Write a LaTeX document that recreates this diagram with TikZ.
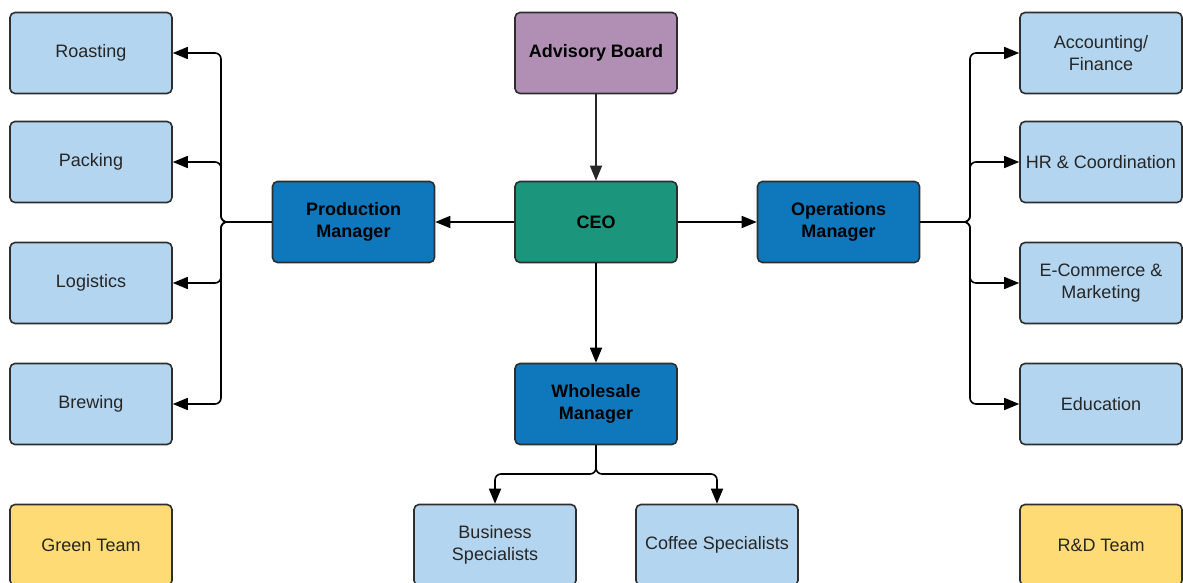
\documentclass[tikz,border=0pt]{standalone}
\usepackage{fontspec}
\setmainfont{Liberation Sans}
\usetikzlibrary{arrows.meta}
\definecolor{nhat}{HTML}{B3D5EF}
\definecolor{dam}{HTML}{0F78BC}
\definecolor{xanh}{HTML}{1B967C}
\definecolor{tim}{HTML}{B18FB4}
\definecolor{vang}{HTML}{FEDB74}
\definecolor{vien}{HTML}{2E2E2E}
\tikzset{
  hop/.style={draw=vien, line width=1.6pt, rounded corners=5pt, minimum width=162pt,
    minimum height=81pt, inner sep=0pt, align=center, font=\fontsize{18}{22}\selectfont, text=black!85},
  dam hop/.style={hop, font=\fontsize{18}{22}\selectfont\bfseries, text=black},
  mui/.style={line width=1.6pt, rounded corners=6pt, -{Triangle[length=15pt,width=12pt]}}
}
\begin{document}
\begin{tikzpicture}[x=1pt,y=1pt]
				\useasboundingbox (0,0) rectangle (1183,582);
				% Các hộp giữa
				\node[dam hop, fill=tim] (ban) at (596,529) {Advisory Board};
				\node[dam hop, fill=xanh] (ceo) at (596,360) {CEO};
				\node[dam hop, fill=dam] (sx) at (353.5,360) {Production\\Manager};
				\node[dam hop, fill=dam] (vh) at (838.5,360) {Operations\\Manager};
				\node[dam hop, fill=dam] (ls) at (596,178) {Wholesale\\Manager};
				
				% Cột trái
				\node[hop, fill=nhat] (rang) at (91,529) {Roasting};
				\node[hop, fill=nhat] (goi) at (91,420) {Packing};
				\node[hop, fill=nhat] (hc) at (91,299) {Logistics};
				\node[hop, fill=nhat] (pha) at (91,178) {Brewing};
				\node[hop, fill=vang] (xanhdoi) at (91,37) {Green Team};
				
				% Cột phải
				\node[hop, fill=nhat] (kt) at (1101,529) {Accounting/\\Finance};
				\node[hop, fill=nhat] (ns) at (1101,420) {HR \& Coordination};
				\node[hop, fill=nhat] (tm) at (1101,299) {E-Commerce \&\\Marketing};
				\node[hop, fill=nhat] (dt) at (1101,178) {Education};
				\node[hop, fill=vang] (rd) at (1101,37) {R\&D Team};
				
				% Hàng dưới
				\node[hop, fill=nhat] (kd) at (495,37) {Business\\Specialists};
				\node[hop, fill=nhat] (cf) at (717,37) {Coffee Specialists};
				
				% Điểm rẽ nhánh
				\coordinate (T) at (221,360);
				\coordinate (P) at (970,360);
				\coordinate (D) at (596,108);
				
				% Mũi tên
				\draw[mui, line width=1.3pt, draw=black!85] (ban) -- (ceo);
				\draw[mui] (ceo) -- (sx);
				\draw[mui] (ceo) -- (vh);
				\draw[mui] (ceo) -- (ls);
				\foreach \n in {rang,goi,hc,pha}
					\draw[mui] (sx.west) -- (T) |- (\n.east);
				\foreach \n in {kt,ns,tm,dt}
					\draw[mui] (vh.east) -- (P) |- (\n.west);
				\draw[mui] (ls.south) -- (D) -| (kd.north);
				\draw[mui] (ls.south) -- (D) -| (cf.north);
			\end{tikzpicture}
\end{document}
